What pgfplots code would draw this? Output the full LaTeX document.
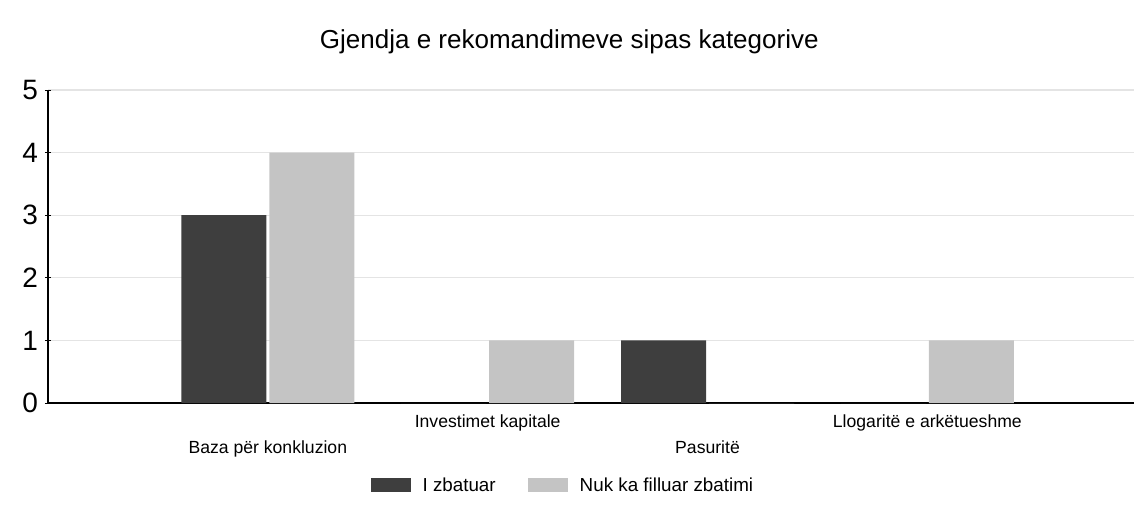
\documentclass[border=0pt]{standalone}
\usepackage{pgfplots}
\pgfplotsset{compat=1.18}
\usepackage{fontspec}
\setmainfont{Liberation Sans}
\definecolor{darkbar}{HTML}{3E3E3E}
\definecolor{lightbar}{HTML}{C4C4C4}
\definecolor{gridc}{HTML}{E4E4E4}
\begin{document}
\begin{tikzpicture}
\path[use as bounding box] (-24pt,-56.5pt) rectangle (543pt,201.5pt);
\begin{axis}[
  scale only axis,
  width=543pt, height=156.5pt,
  ymin=0, ymax=5,
  xmin=0, xmax=4.94,
  ybar=1.5pt, bar width=42.5pt,
  axis x line=bottom, axis y line=left,
  axis line style={line width=1.2pt, -},
  ytick={0,1,2,3,4,5},
  ymajorgrids, grid style={gridc, line width=0.6pt},
  xtick={1,2,3,4},
  xticklabels={{\\[8pt]Baza për konkluzion},{Investimet kapitale},{\\[8pt]Pasuritë},{Llogaritë e arkëtueshme}},
  xticklabel style={font=\fontsize{8.8}{11}\selectfont, align=center, anchor=north, yshift=-1pt},
  x tick style={draw=none},
  y tick style={black, line width=0.5pt},
  major tick length=3pt,
  yticklabel style={font=\fontsize{14}{16}\selectfont},
  /pgf/number format/assume math mode=true,
  title={Gjendja e rekomandimeve sipas kategorive},
  title style={font=\fontsize{13}{15}\selectfont, at={(0.48,1)}, anchor=base, yshift=15pt},
  legend style={at={(0.475,-0.265)}, anchor=center, draw=none, legend columns=2,
    font=\fontsize{9.4}{11}\selectfont, /tikz/every even column/.append style={column sep=14pt}},
  legend image code/.code={\fill[#1] (0pt,-3pt) rectangle (20pt,4pt); \path (24pt,0pt);},
]
\addplot[fill=darkbar, draw=none] coordinates {(1,3) (2,0) (3,1) (4,0)};
\addplot[fill=lightbar, draw=none] coordinates {(1,4) (2,1) (3,0) (4,1)};
\legend{I zbatuar, Nuk ka filluar zbatimi}
\end{axis}
\end{tikzpicture}
\end{document}
